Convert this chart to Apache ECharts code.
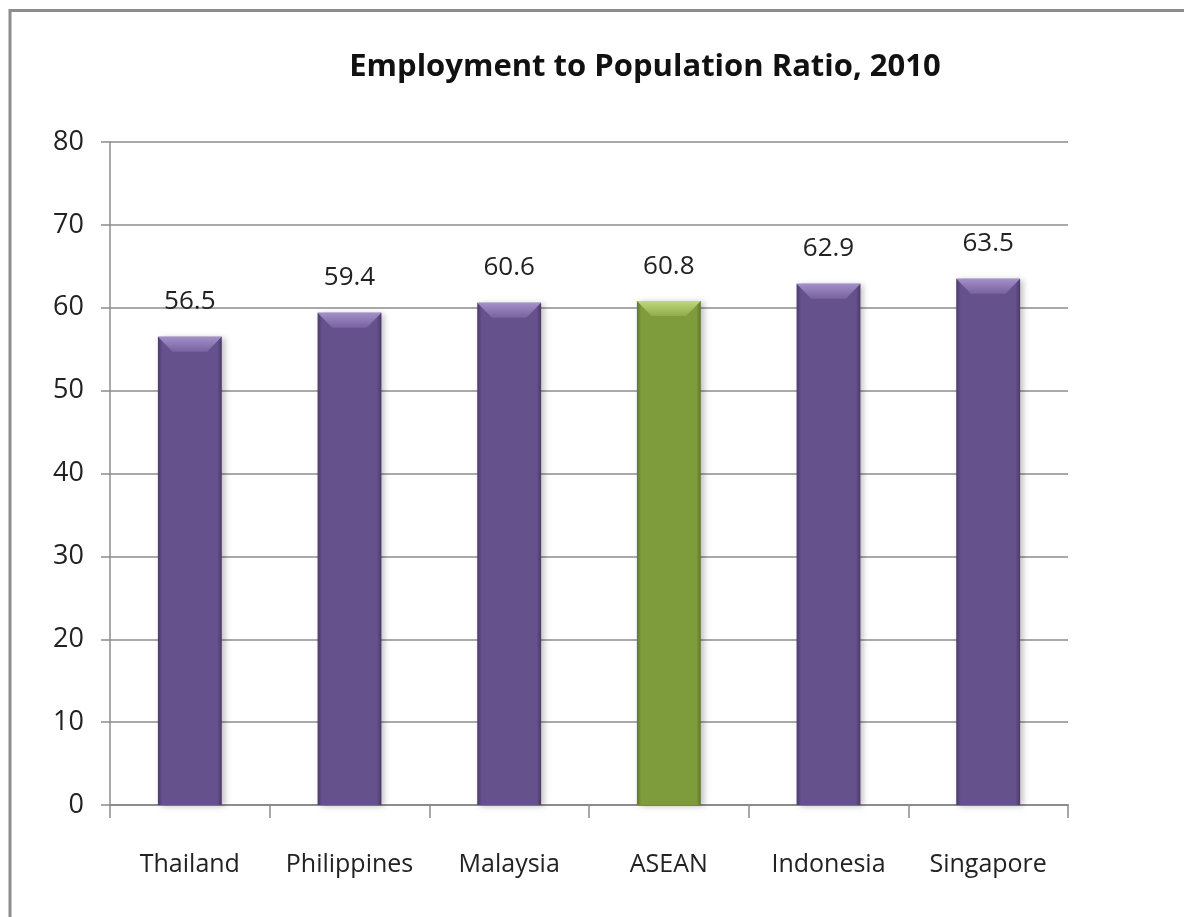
<!DOCTYPE html>
<html>
<head>
<meta charset="utf-8">
<script src="https://cdn.jsdelivr.net/npm/echarts@6/dist/echarts.min.js"></script>
<style>
html,body{margin:0;padding:0;background:#fff;}
#chart{width:1184px;height:917px;}
</style>
</head>
<body>
<div id="chart"></div>
<script>
const categories = ['Thailand', 'Philippines', 'Malaysia', 'ASEAN', 'Indonesia', 'Singapore'];
const values = [56.5, 59.4, 60.6, 60.8, 62.9, 63.5];
const highlightCategory = 'ASEAN';
const yTicks = [0, 10, 20, 30, 40, 50, 60, 70, 80];
const titleText = 'Employment to Population Ratio, 2010';

const purple = {
  body: new echarts.graphic.LinearGradient(0, 0, 1, 0, [
    {offset: 0, color: '#4d3a6c'}, {offset: 0.07, color: '#65518b'},
    {offset: 0.93, color: '#65518b'}, {offset: 1, color: '#4a3868'}]),
  top: new echarts.graphic.LinearGradient(0, 0, 0, 1, [
    {offset: 0, color: '#a38fca'}, {offset: 1, color: '#7863a0'}])
};
const green = {
  body: new echarts.graphic.LinearGradient(0, 0, 1, 0, [
    {offset: 0, color: '#5f7a28'}, {offset: 0.07, color: '#7f9c3d'},
    {offset: 0.93, color: '#7f9c3d'}, {offset: 1, color: '#5c7626'}]),
  top: new echarts.graphic.LinearGradient(0, 0, 0, 1, [
    {offset: 0, color: '#bfd97a'}, {offset: 1, color: '#90ab4b'}])
};

const barData = values.map((v, i) => ({
  value: v,
  itemStyle: {color: (categories[i] === highlightCategory ? green : purple).body}
}));
const capData = values.map((v, i) => ({
  value: v,
  itemStyle: {color: (categories[i] === highlightCategory ? green : purple).top}
}));

const chart = echarts.init(document.getElementById('chart'), null, {renderer: 'canvas'});
chart.setOption({
  animation: false,
  backgroundColor: '#fff',
  textStyle: {fontFamily: 'Open Sans'},
  title: {
    text: titleText,
    left: 640, top: 47, textAlign: 'center',
    textStyle: {fontFamily: 'Open Sans', fontWeight: 'bold', fontSize: 31, color: '#111'}
  },
  grid: {left: 110, right: 116, top: 142, bottom: 112},
  xAxis: {
    type: 'category',
    data: categories,
    axisLine: {lineStyle: {color: '#8c8c8c', width: 2}},
    axisTick: {show: true, length: 13, lineStyle: {color: '#8c8c8c', width: 1.5}},
    axisLabel: {fontSize: 25, color: '#222', margin: 47, interval: 0, fontFamily: 'Open Sans'}
  },
  yAxis: {
    type: 'value', min: 0, max: 80, interval: 10,
    axisLine: {show: true, lineStyle: {color: '#8c8c8c', width: 1.5}},
    axisTick: {show: true, length: 9, lineStyle: {color: '#8c8c8c', width: 1.5}},
    axisLabel: {fontSize: 27, color: '#222', margin: 26, fontFamily: 'Open Sans'},
    splitLine: {lineStyle: {color: '#8c8c8c', width: 1.5}}
  },
  series: [
    {
      type: 'bar',
      data: barData,
      barWidth: '40%',
      itemStyle: {shadowBlur: 6, shadowColor: 'rgba(0,0,0,0.25)', shadowOffsetX: 3, shadowOffsetY: 1},
      label: {show: true, position: 'top', distance: 22, fontSize: 26, color: '#222', fontFamily: 'Open Sans'},
      z: 2
    },
    {
      type: 'pictorialBar',
      data: capData,
      barWidth: '40%',
      symbol: 'path://M0,0 L100,0 L77,100 L23,100 Z',
      symbolSize: ['100%', 15],
      symbolPosition: 'end',
      barGap: '-100%',
      z: 3,
      silent: true
    }
  ],
  graphic: [{
    type: 'rect',
    shape: {x: 10, y: 10.5, width: 1300, height: 1000},
    style: {fill: 'none', stroke: '#8c8c8c', lineWidth: 3},
    z: 100
  }]
});
</script>
</body>
</html>
